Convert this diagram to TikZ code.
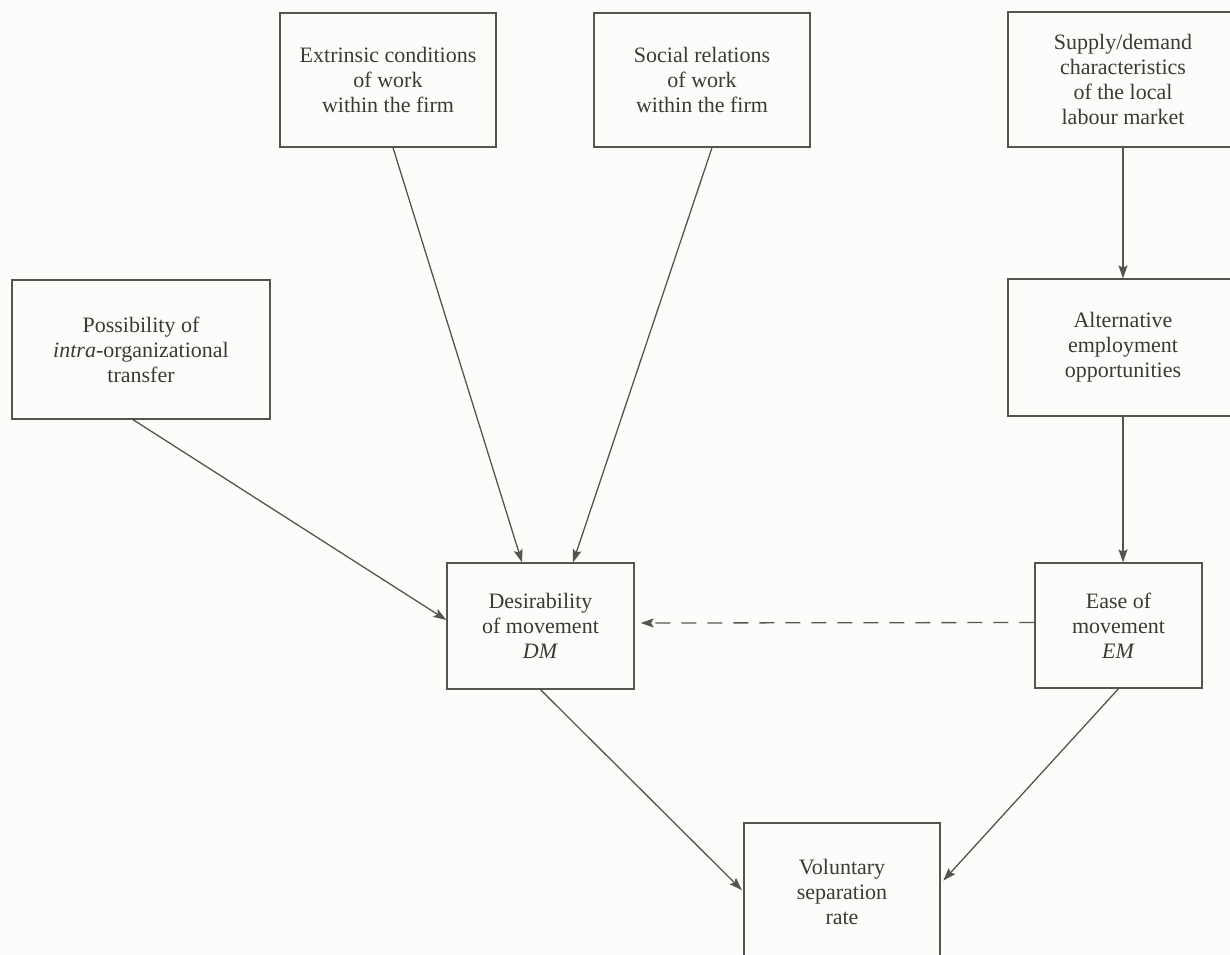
\documentclass[tikz,border=0pt]{standalone}
\usepackage{fontspec}
\setmainfont{Liberation Serif}
\usetikzlibrary{arrows.meta}
\definecolor{ink}{HTML}{555550}
\definecolor{txt}{HTML}{3A3A36}
\definecolor{paper}{HTML}{FCFCFA}
\tikzset{
  box/.style={draw=ink, line width=1.3pt, fill=paper, text=txt, align=center,
    inner sep=0pt, font=\fontsize{22}{25}\selectfont},
  arr/.style={draw=ink, line width=1.3pt, -{Stealth[length=13pt,width=9pt,inset=2.5pt]}},
  darr/.style={arr, dash pattern=on 15pt off 11pt}
}
\begin{document}
\begin{tikzpicture}[x=1pt,y=-1pt]
\useasboundingbox[fill=paper] (0,0) rectangle (1230,954);
\clip (0,0) rectangle (1230,954);
\node[box, minimum width=216pt, minimum height=134pt] (ext) at (388,80)
  {Extrinsic conditions\\of work\\within the firm};
\node[box, minimum width=216pt, minimum height=134pt] (soc) at (702,80)
  {Social relations\\of work\\within the firm};
\node[box, minimum width=230pt, minimum height=135pt] (sup) at (1123,79.5)
  {Supply/demand\\characteristics\\of the local\\labour market};
\node[box, minimum width=258pt, minimum height=139pt] (pos) at (141,349.5)
  {Possibility of\\\textit{intra}-organizational\\transfer};
\node[box, minimum width=230pt, minimum height=137pt] (alt) at (1123,347.5)
  {Alternative\\employment\\opportunities};
\node[box, minimum width=187pt, minimum height=126pt] (des) at (540.5,626)
  {Desirability\\of movement\\\textit{DM}};
\node[box, minimum width=167pt, minimum height=125pt] (ease) at (1118.5,625.5)
  {Ease of\\movement\\\textit{EM}};
\node[box, minimum width=196pt, minimum height=137pt] (vol) at (842,891.5)
  {Voluntary\\separation\\rate};
\draw[arr] ([xshift=5pt]ext.south) -- ([xshift=-18.5pt]des.north);
\draw[arr] ([xshift=10pt]soc.south) -- ([xshift=32.5pt]des.north);
\draw[arr] ([xshift=-8pt]pos.south) -- ([yshift=6pt]des.west);
\draw[arr] (sup.south) -- (alt.north);
\draw[arr] (alt.south) -- (alt.south |- ease.north);
\draw[darr, shorten >=6pt] ([yshift=3pt]ease.west) -- ([yshift=3pt]des.east);
\draw[arr, shorten >=2pt] (des.south) -- (vol.west);
\draw[arr, shorten >=4pt] (ease.south) -- ([yshift=8pt]vol.east);
\end{tikzpicture}
\end{document}
